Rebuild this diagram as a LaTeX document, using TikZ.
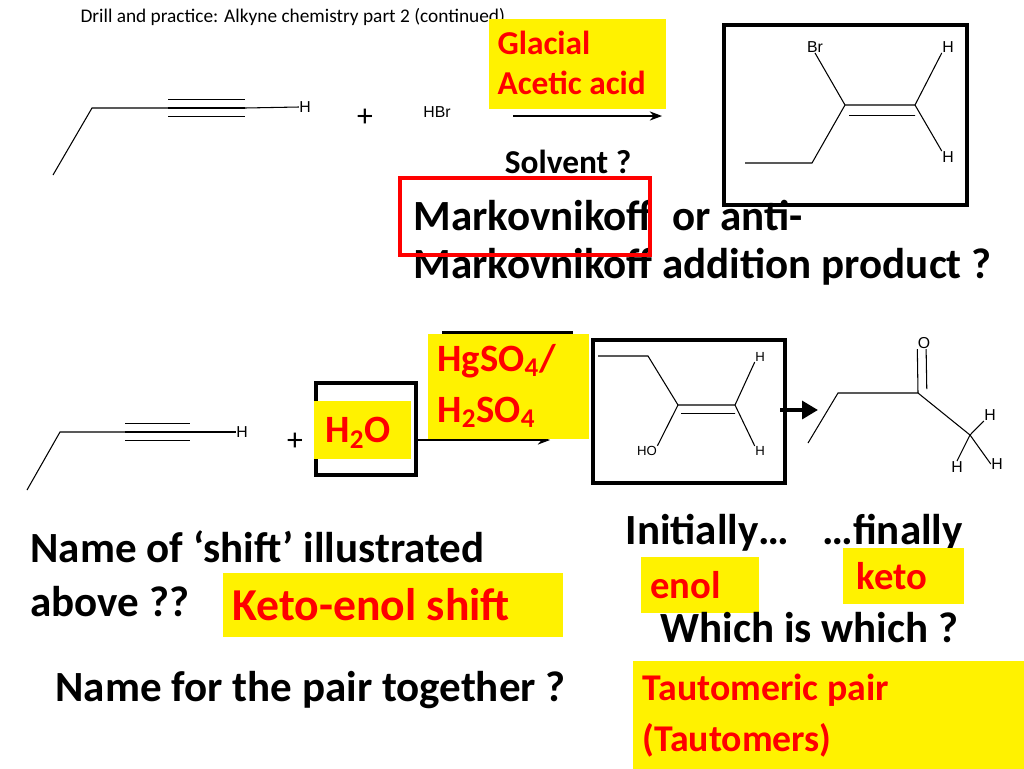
\documentclass[tikz,border=0pt]{standalone}
\usepackage{fontspec}
\setmainfont{Carlito}
\newfontfamily\atomfont{Liberation Sans}
\usetikzlibrary{arrows.meta}
\begin{document}
\begin{tikzpicture}[x=0.02cm,y=-0.02cm,
  every path/.style={draw=black, line width=0.6pt},
  atom/.style={font=\atomfont\fontsize{9}{10}\selectfont, inner sep=0pt},
  big/.style={anchor=west, inner sep=0pt, font=\bfseries\fontsize{24.5}{28}\selectfont},
  red label/.style={text=red, anchor=west, align=left, inner sep=0pt, font=\bfseries\fontsize{19}{22}\selectfont},
  hl/.style={fill=yellow, draw=none},
  frame/.style={draw=black, line width=2.2pt}]
				\path[draw=none, use as bounding box] (0,0) rectangle (1024,768);
				% title
				\node[anchor=west, inner sep=0pt, font=\fontsize{11}{12}\selectfont] (title) at (80,17){Drill and practice: Alkyne chemistry part 2 (continued)};
				
				% top reaction
				\coordinate (a1) at (53,175);
				\coordinate (a2) at (92,108);
				\coordinate (a3) at (168,108);
				\coordinate (a4) at (245,108);
				\node[atom] (ha) at (305,107){H};
				\draw (a1) -- (a2) -- (a3);
				\draw (a3) -- (a4);
				\draw ([yshift=-5]a3) -- ([yshift=-5]a4);
				\draw ([yshift=5]a3) -- ([yshift=5]a4);
				\draw (a4) -- (ha.west);
				\node[inner sep=0pt, font=\fontsize{18}{18}\selectfont] (plus1) at (365,118){+};
				\node[atom] (hbr) at (437,112){HBr};
				\coordinate (r1) at (513,116);
				\coordinate (r2) at (662,116);
				\draw[-{Stealth[length=7pt]}] (r1) -- (r2);
				\node[hl, minimum width=177*0.02cm, minimum height=90*0.02cm, anchor=north west] (glac) at (488,18){};
				\node[red label, font=\bfseries\fontsize{19}{23}\selectfont] (glactext) at (497,63){Glacial\\Acetic acid};
				\node[inner sep=0pt, font=\bfseries\fontsize{19}{20}\selectfont] (solv) at (568,162){Solvent ?};
				
				% bromoalkene product
				\draw[frame] (724,25) rectangle (967,205);
				\coordinate (b1) at (745,163);
				\coordinate (b2) at (812,163);
				\coordinate (b3) at (845,105);
				\coordinate (b4) at (915,105);
				\node[atom] (br) at (815,47){Br};
				\node[atom] (hb1) at (948,47){H};
				\node[atom] (hb2) at (948,157){H};
				\draw (b1) -- (b2) -- (b3) -- (b4);
				\draw ([yshift=-6]b3) ++(4,0) -- ([yshift=-6]b4) -- ++(-4,0);
				\draw (b3) -- (br.south);
				\draw (b4) -- (hb1.south west);
				\draw (b4) -- (hb2.north west);
				
				% question
				\node[big] (mark1) at (413,216){Markovnikoff \ or anti-};
				\node[big] (mark2) at (413,267){Markovnikoff addition product ?};
				\draw[draw=red, line width=2.5pt] (400,178) rectangle (650,255);
				
				% bottom reaction
				\coordinate (c1) at (27,490);
				\coordinate (c2) at (60,432);
				\coordinate (c3) at (125,432);
				\coordinate (c4) at (190,432);
				\node[atom] (hc) at (242,432){H};
				\draw (c1) -- (c2) -- (c3);
				\draw (c3) -- (c4);
				\draw ([yshift=-5]c3) -- ([yshift=-5]c4);
				\draw ([yshift=5]c3) -- ([yshift=5]c4);
				\draw (c4) -- (hc.west);
				\node[inner sep=0pt, font=\fontsize{18}{18}\selectfont] (plus2) at (295,442){+};
				\draw[frame] (316,383) rectangle (416,475);
				\node[hl, minimum width=97*0.02cm, minimum height=58*0.02cm, anchor=north west] (wat) at (313,400){};
				\node[red label, font=\bfseries\fontsize{22}{24}\selectfont] (h2o) at (325,433){H\textsubscript{2}O};
				\coordinate (s1) at (415,440);
				\coordinate (s2) at (550,440);
				\draw[-{Stealth[length=7pt]}] (s1) -- (s2);
				\draw[line width=2pt] (442,333) -- (573,333);
				\node[hl, minimum width=161*0.02cm, minimum height=105*0.02cm, anchor=north west] (cat) at (427,333){};
				\node[red label, font=\bfseries\fontsize{22}{29}\selectfont] (hgso) at (437,386){HgSO\textsubscript{4}/\\H\textsubscript{2}SO\textsubscript{4}};
				
				% enol
				\draw[frame] (593,340) rectangle (785,483);
				\coordinate (e1) at (598,356);
				\coordinate (e2) at (648,356);
				\coordinate (e3) at (678,405);
				\coordinate (e4) at (735,405);
				\node[atom, font=\atomfont\fontsize{7.5}{8}\selectfont] (ho) at (647,451){HO};
				\node[atom, font=\atomfont\fontsize{7.5}{8}\selectfont] (he1) at (760,357){H};
				\node[atom, font=\atomfont\fontsize{7.5}{8}\selectfont] (he2) at (760,451){H};
				\draw (e1) -- (e2) -- (e3) -- (e4);
				\draw ([yshift=-5]e3) ++(3,0) -- ([yshift=-5]e4) -- ++(-3,0);
				\draw (e3) -- (ho.north east);
				\draw (e4) -- (he1.south west);
				\draw (e4) -- (he2.north west);
				\coordinate (t1) at (780,410);
				\coordinate (t2) at (818,410);
				\draw[line width=2.5pt, -{Triangle[length=9pt, width=10pt]}] (t1) -- (t2);
				
				% keto
				\coordinate (k1) at (808,443);
				\coordinate (k2) at (838,393);
				\coordinate (k3) at (918,393);
				\coordinate (k4) at (970,435);
				\node[atom] (ok) at (924,343){O};
				\node[atom] (hk1) at (990,415){H};
				\node[atom] (hk2) at (957,467){H};
				\node[atom] (hk3) at (997,464){H};
				\draw (k1) -- (k2) -- (k3) -- (k4);
				\draw (k3) -- (ok.south west);
				\draw ([xshift=5]k3) ++(0,-4) -- ([xshift=5]ok.south west);
				\draw (k4) -- (hk1.south west);
				\draw (k4) -- (hk2.north);
				\draw (k4) -- (hk3.west);
				
				% questions below
				\node[big] (shift1) at (30,547){Name of `shift’ illustrated};
				\node[big] (shift2) at (30,602){above ??};
				\node[hl, minimum width=340*0.02cm, minimum height=64*0.02cm, anchor=north west] (ke) at (222,572){};
				\node[red label, font=\bfseries\fontsize{26}{28}\selectfont] (ketext) at (232,605){Keto-enol shift};
				\node[big] (init) at (625,533){Initially…};
				\node[big] (fin) at (822,533){…finally};
				\node[hl, minimum width=118*0.02cm, minimum height=56*0.02cm, anchor=north west] (enolbox) at (640,556){};
				\node[red label, font=\bfseries\fontsize{22}{24}\selectfont] (enol) at (650,585){enol};
				\node[hl, minimum width=121*0.02cm, minimum height=56*0.02cm, anchor=north west] (ketobox) at (842,547){};
				\node[red label, font=\bfseries\fontsize{22}{24}\selectfont] (keto) at (856,576){keto};
				\node[big] (which) at (660,628){Which is which ?};
				\node[big] (pair) at (55,690){Name for the pair together ?};
				\node[hl, minimum width=392*0.02cm, minimum height=108*0.02cm, anchor=north west] (taubox) at (632,660){};
				\node[red label, font=\bfseries\fontsize{21.5}{29}\selectfont] (tau) at (642,716){Tautomeric pair\\(Tautomers)};
				\end{tikzpicture}
\end{document}
